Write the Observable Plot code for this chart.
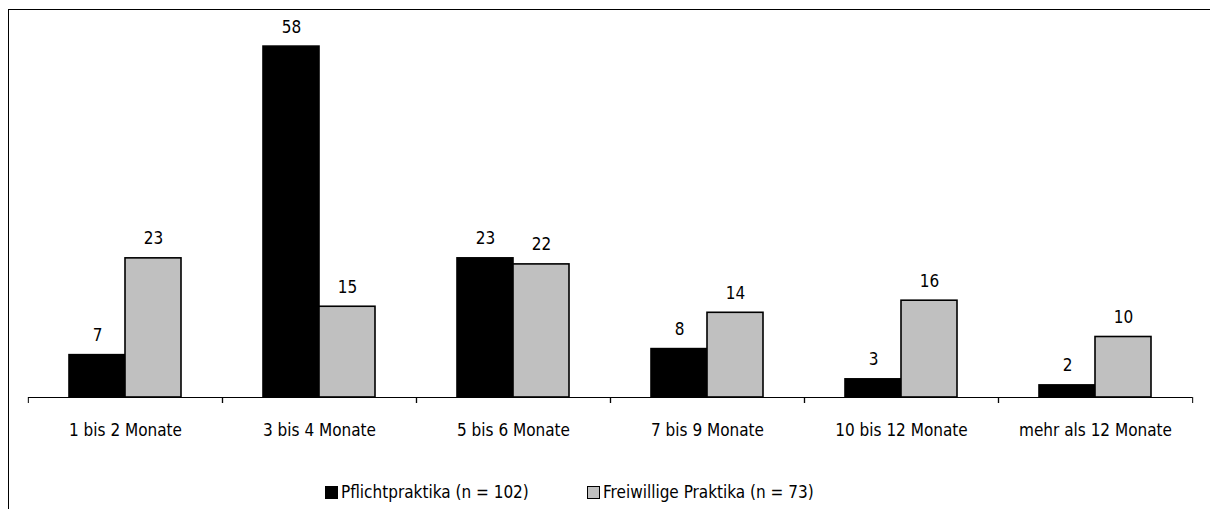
<!DOCTYPE html>
<html>
<head>
<meta charset="utf-8">
<script src="https://cdn.jsdelivr.net/npm/d3@7"></script>
<script src="https://cdn.jsdelivr.net/npm/@observablehq/plot@0.6"></script>
<style>
  html, body { margin: 0; padding: 0; background: #fff; }
  #wrap { position: relative; width: 1210px; height: 509px; overflow: hidden;
    font-family: "Liberation Sans Narrow", "Arial Narrow", "DejaVu Sans Condensed", sans-serif; }
  #frame { position: absolute; left: 8px; top: 9px; width: 1220px; height: 520px;
    border-left: 1.5px solid #000; border-top: 1.5px solid #000; box-sizing: border-box; }
  #chart { position: absolute; left: 0; top: 0; }
  #legend { position: absolute; top: 482px; left: 0; width: 1210px; height: 20px; font-size: 17px; color: #000; }
  .item { position: absolute; top: 0; display: flex; align-items: center; white-space: nowrap; }
  .sw { width: 11px; height: 11px; border: 1.5px solid #000; margin-right: 3px; }
</style>
</head>
<body>
<div id="wrap">
  <div id="frame"></div>
  <div id="chart"></div>
  <div id="legend"></div>
</div>
<script>
const categories = ["1 bis 2 Monate", "3 bis 4 Monate", "5 bis 6 Monate", "7 bis 9 Monate", "10 bis 12 Monate", "mehr als 12 Monate"];
const seriesNames = ["Pflichtpraktika (n = 102)", "Freiwillige Praktika (n = 73)"];
const pflicht = [7, 58, 23, 8, 3, 2];
const freiwillig = [23, 15, 22, 14, 16, 10];
const seriesColors = ["#000000", "#c0c0c0"];

const data = [];
categories.forEach((c, i) => {
  data.push({cat: c, series: seriesNames[0], value: pflicht[i]});
  data.push({cat: c, series: seriesNames[1], value: freiwillig[i]});
});

const width = 1210, height = 470;
const mL = 27, mR = 17;
const step = (width - mL - mR) / categories.length;
const font = '"Liberation Sans Narrow", "Arial Narrow", "DejaVu Sans Condensed", sans-serif';

const plot = Plot.plot({
  width, height,
  marginLeft: mL, marginRight: mR, marginTop: 34, marginBottom: height - 397,
  style: {fontFamily: font, fontSize: "17px", color: "#000", background: "transparent"},
  fx: {domain: categories, paddingInner: 0, paddingOuter: 0, label: null},
  x: {domain: seriesNames, paddingInner: 0, paddingOuter: 0.72, axis: null},
  y: {domain: [0, 60], axis: null},
  color: {domain: seriesNames, range: seriesColors},
  marks: [
    Plot.barY(data, {fx: "cat", x: "series", y: "value", fill: "series", stroke: "#000", strokeWidth: 1.6}),
    Plot.text(data, {fx: "cat", x: "series", y: "value", text: d => String(d.value), lineAnchor: "bottom", dy: -14, fontSize: 17, fill: "#000"}),
    Plot.ruleY([0], {stroke: "#000", strokeWidth: 1}),
    Plot.axisFx({anchor: "bottom", tickSize: 0, tickPadding: 26, label: null, fontSize: 17, fill: "#000"}),
    Plot.axisFx({anchor: "bottom", tickSize: 6, fill: "none", label: null, dx: -step / 2, stroke: "#000"}),
    Plot.axisFx(categories.slice(-1), {anchor: "bottom", tickSize: 6, fill: "none", label: null, dx: step / 2, stroke: "#000"})
  ]
});
document.getElementById("chart").appendChild(plot);

const legend = document.getElementById("legend");
const legendX = [325, 587];
seriesNames.forEach((s, i) => {
  const item = document.createElement("div");
  item.className = "item";
  item.style.left = legendX[i] + "px";
  const sw = document.createElement("div");
  sw.className = "sw";
  sw.style.background = seriesColors[i];
  const t = document.createElement("span");
  t.textContent = s;
  item.appendChild(sw);
  item.appendChild(t);
  legend.appendChild(item);
});
</script>
</body>
</html>
